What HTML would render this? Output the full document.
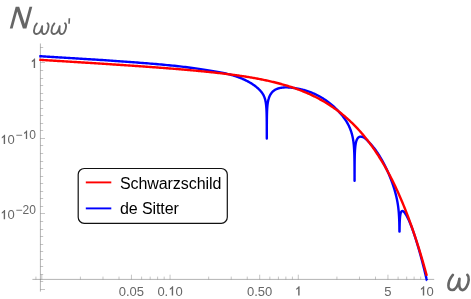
<!DOCTYPE html>
<html><head><meta charset="utf-8"><title>plot</title>
<style>html,body{margin:0;padding:0;background:#fff;overflow:hidden}body{width:471px;height:299px}</style></head>
<body>
<svg width="471" height="299" viewBox="0 0 471 299" style="display:block;font-family:'Liberation Sans',sans-serif;will-change:transform">
<rect width="471" height="299" fill="#fff"/>
<g stroke="#666" stroke-width="0.5" fill="none">
<path d="M40.4,43.5 V291.6 M32.4,279.4 H434.2"/>
<path d="M40.4,47.5 h2.8 M40.4,55.5 h2.8 M40.4,62.5 h4.6 M40.4,70.5 h2.8 M40.4,78.5 h2.8 M40.4,85.5 h2.8 M40.4,93.5 h2.8 M40.4,100.5 h2.8 M40.4,108.5 h2.8 M40.4,115.5 h2.8 M40.4,123.5 h2.8 M40.4,130.5 h2.8 M40.4,138.5 h4.6 M40.4,145.5 h2.8 M40.4,153.5 h2.8 M40.4,161.5 h2.8 M40.4,168.5 h2.8 M40.4,176.5 h2.8 M40.4,183.5 h2.8 M40.4,191.5 h2.8 M40.4,198.5 h2.8 M40.4,206.5 h2.8 M40.4,213.5 h4.6 M40.4,221.5 h2.8 M40.4,229.5 h2.8 M40.4,236.5 h2.8 M40.4,244.5 h2.8 M40.4,251.5 h2.8 M40.4,259.5 h2.8 M40.4,266.5 h2.8 M40.4,274.5 h2.8 M40.4,281.5 h2.8 M40.4,289.5 h4.6 M41.8,279.4 v-4.7 M131.44,279.4 v-4.7 M170.05,279.4 v-4.7 M259.69,279.4 v-4.7 M298.3,279.4 v-4.7 M387.94,279.4 v-4.7 M426.55,279.4 v-4.7 M35.93,279.4 v-2.8 M80.41,279.4 v-2.8 M102.99,279.4 v-2.8 M119.01,279.4 v-2.8 M141.6,279.4 v-2.8 M150.18,279.4 v-2.8 M157.62,279.4 v-2.8 M164.18,279.4 v-2.8 M208.66,279.4 v-2.8 M231.24,279.4 v-2.8 M247.26,279.4 v-2.8 M269.85,279.4 v-2.8 M278.43,279.4 v-2.8 M285.87,279.4 v-2.8 M292.43,279.4 v-2.8 M336.91,279.4 v-2.8 M359.49,279.4 v-2.8 M375.51,279.4 v-2.8 M398.1,279.4 v-2.8 M406.68,279.4 v-2.8 M414.12,279.4 v-2.8 M420.68,279.4 v-2.8 " stroke-width="0.38"/>
</g>
<path d="M39.3,56.16 L39.3,56.16 L39.3,56.16 L39.3,56.16 L39.3,56.16 L39.3,56.16 L39.3,56.16 L39.3,56.16 L39.3,56.16 L39.3,56.16 L39.3,56.16 L39.31,56.16 L39.31,56.16 L39.31,56.16 L39.32,56.16 L39.32,56.16 L39.33,56.16 L39.34,56.16 L39.34,56.16 L39.36,56.16 L39.37,56.16 L39.38,56.16 L39.4,56.16 L39.42,56.16 L39.44,56.17 L39.47,56.17 L39.49,56.17 L39.52,56.17 L39.56,56.17 L39.6,56.18 L39.64,56.18 L39.69,56.18 L39.74,56.19 L39.8,56.19 L39.86,56.19 L39.93,56.2 L40,56.2 L40.08,56.21 L40.17,56.21 L40.26,56.22 L40.36,56.23 L40.47,56.23 L40.59,56.24 L40.71,56.25 L40.84,56.26 L40.98,56.27 L41.14,56.27 L41.3,56.29 L41.47,56.3 L41.65,56.31 L41.84,56.32 L42.05,56.33 L42.26,56.35 L42.49,56.36 L42.73,56.38 L42.98,56.39 L43.25,56.41 L43.52,56.43 L43.82,56.45 L44.12,56.47 L44.45,56.49 L44.78,56.51 L45.13,56.53 L45.5,56.55 L45.89,56.58 L46.29,56.6 L46.7,56.63 L47.14,56.66 L47.59,56.69 L48.06,56.71 L48.55,56.75 L49.06,56.78 L49.58,56.81 L50.13,56.84 L50.69,56.88 L51.28,56.92 L51.88,56.95 L52.51,56.99 L53.15,57.03 L53.82,57.07 L54.51,57.12 L55.22,57.16 L55.95,57.2 L56.7,57.25 L57.47,57.3 L58.27,57.35 L59.09,57.4 L59.93,57.45 L60.8,57.5 L61.69,57.56 L62.6,57.61 L63.53,57.67 L64.49,57.73 L65.47,57.79 L66.48,57.85 L67.51,57.91 L68.56,57.97 L69.63,58.04 L70.73,58.11 L71.86,58.17 L73,58.24 L74.17,58.31 L75.36,58.39 L76.58,58.46 L77.82,58.54 L79.08,58.61 L80.36,58.69 L81.67,58.77 L83,58.85 L84.35,58.93 L85.73,59.02 L87.12,59.1 L88.54,59.19 L89.98,59.28 L91.44,59.37 L92.92,59.46 L94.42,59.56 L95.94,59.65 L97.48,59.75 L99.03,59.85 L100.61,59.95 L102.21,60.06 L103.82,60.16 L105.45,60.27 L107.1,60.38 L108.76,60.49 L110.44,60.6 L112.14,60.72 L113.85,60.84 L115.57,60.96 L117.31,61.08 L119.06,61.2 L120.83,61.33 L122.6,61.46 L124.39,61.59 L126.19,61.72 L128,61.86 L129.81,61.99 L131.64,62.13 L133.48,62.26 L135.32,62.4 L137.17,62.54 L139.02,62.68 L140.88,62.83 L142.74,62.97 L144.61,63.12 L146.48,63.27 L148.36,63.42 L150.23,63.58 L152.11,63.73 L153.99,63.89 L155.87,64.05 L157.74,64.21 L159.62,64.38 L161.49,64.55 L163.36,64.72 L165.22,64.89 L167.08,65.07 L168.93,65.25 L170.78,65.44 L172.62,65.62 L174.46,65.81 L176.29,66.01 L178.1,66.2 L179.91,66.4 L181.71,66.61 L183.5,66.82 L185.27,67.03 L187.04,67.24 L188.79,67.46 L190.53,67.69 L192.25,67.92 L193.96,68.15 L195.66,68.39 L197.34,68.63 L199,68.87 L200.65,69.12 L202.28,69.37 L203.89,69.61 L205.49,69.85 L207.07,70.1 L208.62,70.34 L210.16,70.58 L211.68,70.82 L213.18,71.07 L214.66,71.32 L216.12,71.57 L217.56,71.83 L218.98,72.09 L220.37,72.36 L221.75,72.64 L223.1,72.92 L224.43,73.21 L225.74,73.5 L227.02,73.81 L228.28,74.12 L229.52,74.44 L230.74,74.77 L231.93,75.1 L233.1,75.44 L234.24,75.79 L235.37,76.15 L236.47,76.52 L237.54,76.89 L238.59,77.27 L239.62,77.66 L240.63,78.06 L241.61,78.46 L242.57,78.87 L243.5,79.29 L244.41,79.7 L245.3,80.13 L246.17,80.55 L247.01,80.98 L247.83,81.41 L248.63,81.84 L249.4,82.27 L250.15,82.71 L250.88,83.14 L251.59,83.58 L252.28,84.02 L252.95,84.46 L253.59,84.9 L254.22,85.34 L254.82,85.78 L255.41,86.22 L255.97,86.66 L256.52,87.11 L257.04,87.55 L257.55,88 L258.04,88.45 L258.51,88.89 L258.96,89.33 L259.4,89.76 L259.81,90.18 L260.21,90.61 L260.6,91.03 L260.97,91.45 L261.32,91.87 L261.65,92.3 L261.98,92.73 L262.28,93.16 L262.58,93.6 L262.85,94.04 L263.12,94.49 L263.37,94.94 L263.61,95.41 L263.84,95.88 L264.05,96.36 L264.26,96.85 L264.45,97.35 L264.63,97.86 L264.8,98.38 L264.96,98.91 L265.12,99.45 L265.26,100.01 L265.39,100.58 L265.51,101.16 L265.63,101.76 L265.74,102.38 L265.84,103.01 L265.93,103.65 L266.02,104.32 L266.1,105 L266.17,105.71 L266.24,106.43 L266.3,107.18 L266.36,107.95 L266.41,108.74 L266.46,109.57 L266.5,110.42 L266.54,111.3 L266.58,112.21 L266.61,113.16 L266.63,114.15 L266.66,115.18 L266.68,116.25 L266.7,117.37 L266.72,118.54 L266.73,119.77 L266.74,121.07 L266.76,122.43 L266.76,123.87 L266.77,125.41 L266.78,127.04 L266.78,128.78 L266.79,130.65 L266.79,132.68 L266.79,134.88 L266.8,137.29 L266.8,138.6 L266.8,138.6 L266.8,138.6 L266.8,138.6 L266.8,138.6 L266.8,138.6 L266.8,138.6 L266.8,138.6 L266.8,138.6 L266.8,138.6 L266.8,138.6 L266.8,138.6 L266.8,138.6 L266.8,138.6 L266.8,138.6 L266.8,138.6 L266.8,138.6 L266.8,138.6 L266.8,138.6 L266.8,138.6 L266.8,138.6 L266.8,138.6 L266.8,138.6 L266.8,136.68 L266.81,134.81 L266.81,133.07 L266.81,131.44 L266.81,129.9 L266.82,128.46 L266.82,127.1 L266.83,125.8 L266.83,124.57 L266.84,123.4 L266.85,122.28 L266.85,121.2 L266.86,120.18 L266.87,119.19 L266.89,118.24 L266.9,117.33 L266.91,116.44 L266.93,115.59 L266.95,114.77 L266.97,113.97 L266.99,113.2 L267.02,112.45 L267.04,111.73 L267.07,111.02 L267.1,110.34 L267.13,109.67 L267.17,109.02 L267.21,108.39 L267.25,107.78 L267.3,107.18 L267.34,106.59 L267.4,106.02 L267.45,105.46 L267.51,104.92 L267.57,104.38 L267.64,103.86 L267.71,103.35 L267.78,102.85 L267.86,102.37 L267.94,101.89 L268.03,101.42 L268.12,100.96 L268.22,100.51 L268.32,100.07 L268.43,99.64 L268.54,99.21 L268.66,98.79 L268.79,98.39 L268.91,97.99 L269.05,97.59 L269.19,97.21 L269.34,96.83 L269.5,96.45 L269.66,96.09 L269.82,95.73 L270,95.38 L270.18,95.03 L270.37,94.69 L270.56,94.36 L270.77,94.04 L270.98,93.72 L271.19,93.41 L271.42,93.1 L271.65,92.8 L271.89,92.51 L272.14,92.22 L272.4,91.95 L272.67,91.68 L272.94,91.41 L273.22,91.16 L273.51,90.91 L273.81,90.68 L274.12,90.45 L274.44,90.23 L274.76,90.02 L275.09,89.82 L275.44,89.63 L275.79,89.45 L276.15,89.28 L276.52,89.11 L276.9,88.95 L277.28,88.79 L277.68,88.65 L278.09,88.51 L278.5,88.38 L278.93,88.26 L279.36,88.15 L279.8,88.04 L280.25,87.94 L280.71,87.85 L281.18,87.77 L281.66,87.7 L282.15,87.63 L282.64,87.57 L283.15,87.52 L283.66,87.48 L284.18,87.45 L284.71,87.42 L285.25,87.4 L285.79,87.39 L286.35,87.39 L286.91,87.4 L287.48,87.41 L288.06,87.43 L288.65,87.46 L289.24,87.5 L289.84,87.54 L290.45,87.59 L291.07,87.65 L291.69,87.71 L292.32,87.78 L292.95,87.86 L293.6,87.94 L294.25,88.03 L294.9,88.13 L295.56,88.23 L296.22,88.34 L296.89,88.45 L297.57,88.58 L298.25,88.71 L298.94,88.84 L299.63,88.99 L300.32,89.14 L301.02,89.31 L301.72,89.48 L302.42,89.65 L303.13,89.84 L303.84,90.03 L304.55,90.23 L305.27,90.44 L305.99,90.66 L306.71,90.89 L307.43,91.13 L308.15,91.37 L308.87,91.62 L309.6,91.88 L310.32,92.15 L311.04,92.43 L311.77,92.72 L312.49,93.02 L313.21,93.32 L313.94,93.64 L314.66,93.96 L315.38,94.29 L316.09,94.63 L316.81,94.98 L317.52,95.34 L318.23,95.71 L318.94,96.08 L319.64,96.46 L320.35,96.86 L321.04,97.26 L321.74,97.67 L322.43,98.09 L323.11,98.51 L323.79,98.95 L324.47,99.39 L325.14,99.84 L325.8,100.3 L326.46,100.76 L327.12,101.23 L327.77,101.71 L328.41,102.19 L329.04,102.68 L329.67,103.17 L330.3,103.67 L330.91,104.17 L331.52,104.67 L332.12,105.18 L332.71,105.7 L333.3,106.21 L333.88,106.74 L334.45,107.26 L335.01,107.79 L335.57,108.31 L336.11,108.85 L336.65,109.38 L337.18,109.91 L337.7,110.45 L338.22,110.99 L338.72,111.53 L339.22,112.07 L339.7,112.61 L340.18,113.15 L340.65,113.69 L341.11,114.23 L341.56,114.77 L342,115.3 L342.44,115.84 L342.86,116.37 L343.28,116.91 L343.68,117.44 L344.08,117.98 L344.47,118.51 L344.84,119.05 L345.21,119.59 L345.57,120.12 L345.93,120.66 L346.27,121.2 L346.6,121.74 L346.93,122.28 L347.24,122.83 L347.55,123.37 L347.85,123.91 L348.14,124.46 L348.42,125.01 L348.7,125.56 L348.96,126.11 L349.22,126.66 L349.47,127.21 L349.71,127.77 L349.94,128.32 L350.17,128.88 L350.39,129.44 L350.6,130 L350.8,130.55 L350.99,131.11 L351.18,131.67 L351.36,132.24 L351.54,132.8 L351.71,133.37 L351.87,133.93 L352.02,134.51 L352.17,135.08 L352.31,135.66 L352.45,136.24 L352.58,136.82 L352.7,137.41 L352.82,138.01 L352.93,138.61 L353.04,139.21 L353.14,139.83 L353.24,140.44 L353.33,141.07 L353.42,141.7 L353.5,142.34 L353.58,142.99 L353.66,143.65 L353.73,144.31 L353.79,144.99 L353.85,145.68 L353.91,146.38 L353.97,147.09 L354.02,147.82 L354.07,148.55 L354.11,149.31 L354.15,150.08 L354.19,150.86 L354.23,151.67 L354.26,152.49 L354.29,153.33 L354.32,154.2 L354.35,155.08 L354.37,156 L354.39,156.93 L354.41,157.9 L354.43,158.9 L354.45,159.93 L354.46,160.99 L354.48,162.09 L354.49,163.23 L354.5,164.42 L354.51,165.65 L354.52,166.94 L354.52,168.28 L354.53,169.68 L354.54,171.15 L354.54,172.7 L354.55,174.33 L354.55,176.05 L354.55,177.88 L354.55,179.82 L354.56,180.8 L354.56,180.8 L354.56,180.8 L354.56,180.8 L354.56,180.8 L354.56,180.8 L354.56,180.8 L354.56,180.8 L354.56,180.8 L354.56,180.8 L354.56,180.8 L354.56,180.8 L354.56,180.8 L354.56,180.8 L354.56,180.8 L354.56,180.8 L354.56,180.8 L354.56,180.8 L354.56,180.8 L354.56,180.8 L354.56,180.8 L354.56,180.8 L354.56,180.8 L354.56,180.8 L354.56,180.8 L354.56,180.8 L354.56,180.8 L354.56,180.8 L354.57,180.8 L354.57,180.8 L354.57,180.8 L354.57,180.8 L354.57,180.8 L354.57,179.4 L354.57,177.78 L354.58,176.24 L354.58,174.77 L354.58,173.38 L354.59,172.05 L354.59,170.78 L354.6,169.56 L354.6,168.38 L354.61,167.26 L354.61,166.18 L354.62,165.13 L354.63,164.13 L354.64,163.16 L354.65,162.22 L354.66,161.31 L354.67,160.43 L354.69,159.58 L354.7,158.75 L354.72,157.95 L354.73,157.17 L354.75,156.42 L354.77,155.68 L354.79,154.97 L354.82,154.28 L354.84,153.6 L354.87,152.95 L354.9,152.31 L354.93,151.69 L354.96,151.08 L354.99,150.49 L355.03,149.92 L355.06,149.36 L355.11,148.82 L355.15,148.29 L355.19,147.77 L355.24,147.27 L355.29,146.78 L355.34,146.31 L355.4,145.85 L355.45,145.39 L355.52,144.96 L355.58,144.53 L355.65,144.12 L355.71,143.71 L355.79,143.32 L355.86,142.94 L355.94,142.58 L356.02,142.22 L356.11,141.87 L356.2,141.54 L356.29,141.22 L356.39,140.91 L356.49,140.6 L356.59,140.31 L356.7,140.04 L356.81,139.77 L356.93,139.51 L357.05,139.27 L357.17,139.03 L357.3,138.81 L357.43,138.6 L357.57,138.39 L357.71,138.21 L357.85,138.03 L358,137.86 L358.15,137.71 L358.31,137.56 L358.47,137.43 L358.64,137.31 L358.81,137.2 L358.98,137.09 L359.16,137 L359.35,136.92 L359.54,136.85 L359.73,136.79 L359.93,136.75 L360.13,136.71 L360.34,136.68 L360.55,136.67 L360.77,136.67 L360.99,136.67 L361.22,136.69 L361.45,136.72 L361.68,136.76 L361.92,136.82 L362.17,136.88 L362.42,136.96 L362.67,137.05 L362.93,137.15 L363.19,137.26 L363.46,137.38 L363.73,137.52 L364.01,137.67 L364.29,137.83 L364.57,138.01 L364.86,138.22 L365.15,138.44 L365.45,138.68 L365.75,138.93 L366.05,139.2 L366.36,139.49 L366.67,139.79 L366.99,140.1 L367.3,140.43 L367.63,140.76 L367.95,141.11 L368.28,141.46 L368.61,141.82 L368.95,142.18 L369.28,142.54 L369.62,142.91 L369.97,143.27 L370.31,143.64 L370.66,144.01 L371.01,144.4 L371.37,144.8 L371.72,145.2 L372.08,145.62 L372.44,146.05 L372.8,146.48 L373.16,146.93 L373.52,147.38 L373.89,147.84 L374.25,148.31 L374.62,148.8 L374.99,149.29 L375.36,149.79 L375.73,150.29 L376.1,150.81 L376.47,151.34 L376.84,151.87 L377.21,152.41 L377.58,152.96 L377.95,153.52 L378.32,154.09 L378.69,154.66 L379.06,155.24 L379.43,155.83 L379.8,156.42 L380.16,157.02 L380.53,157.63 L380.89,158.25 L381.25,158.87 L381.61,159.5 L381.97,160.14 L382.33,160.78 L382.68,161.42 L383.04,162.08 L383.39,162.73 L383.74,163.39 L384.08,164.06 L384.43,164.73 L384.77,165.4 L385.1,166.07 L385.44,166.75 L385.77,167.43 L386.1,168.12 L386.42,168.8 L386.75,169.49 L387.06,170.18 L387.38,170.87 L387.69,171.56 L388,172.25 L388.3,172.94 L388.6,173.63 L388.9,174.32 L389.19,175.01 L389.48,175.71 L389.76,176.39 L390.04,177.08 L390.32,177.77 L390.59,178.46 L390.86,179.14 L391.12,179.82 L391.38,180.5 L391.63,181.18 L391.88,181.86 L392.13,182.53 L392.37,183.21 L392.6,183.88 L392.83,184.54 L393.06,185.21 L393.28,185.87 L393.5,186.53 L393.71,187.18 L393.92,187.84 L394.12,188.49 L394.32,189.14 L394.51,189.78 L394.7,190.42 L394.89,191.06 L395.07,191.7 L395.24,192.33 L395.41,192.96 L395.58,193.59 L395.74,194.21 L395.9,194.83 L396.05,195.45 L396.2,196.07 L396.34,196.68 L396.48,197.29 L396.62,197.9 L396.75,198.51 L396.88,199.11 L397,199.72 L397.12,200.32 L397.24,200.92 L397.35,201.52 L397.46,202.12 L397.56,202.72 L397.66,203.31 L397.76,203.91 L397.85,204.5 L397.94,205.1 L398.02,205.69 L398.11,206.28 L398.19,206.88 L398.26,207.47 L398.33,208.07 L398.4,208.67 L398.47,209.27 L398.53,209.87 L398.59,210.47 L398.65,211.08 L398.71,211.69 L398.76,212.3 L398.81,212.92 L398.86,213.55 L398.9,214.17 L398.94,214.81 L398.98,215.45 L399.02,216.09 L399.06,216.75 L399.09,217.41 L399.12,218.08 L399.15,218.76 L399.18,219.46 L399.21,220.16 L399.23,220.87 L399.26,221.6 L399.28,222.34 L399.3,223.1 L399.32,223.87 L399.33,224.66 L399.35,225.46 L399.36,226.29 L399.38,227.14 L399.39,228.01 L399.4,228.9 L399.41,229.82 L399.42,230.77 L399.43,231.6 L399.44,231.6 L399.44,231.6 L399.45,231.6 L399.45,231.6 L399.46,231.6 L399.46,231.6 L399.47,231.6 L399.47,231.6 L399.47,231.6 L399.48,231.6 L399.48,231.6 L399.48,231.6 L399.48,231.6 L399.48,231.6 L399.48,231.6 L399.48,231.6 L399.49,231.6 L399.49,231.6 L399.49,231.6 L399.49,231.6 L399.49,231.6 L399.49,231.6 L399.49,231.6 L399.49,231.6 L399.49,231.6 L399.49,231.6 L399.49,231.6 L399.49,231.6 L399.49,231.6 L399.49,231.6 L399.49,231.6 L399.49,231.6 L399.49,231.6 L399.49,231.6 L399.49,231.6 L399.49,231.6 L399.49,231.6 L399.49,231.6 L399.49,231.6 L399.49,231.6 L399.49,231.6 L399.49,231.6 L399.49,231.6 L399.49,231.6 L399.49,231.6 L399.49,231.6 L399.49,231.6 L399.49,231.6 L399.49,231.6 L399.5,231.6 L399.5,231.6 L399.5,231.6 L399.5,231.6 L399.5,231.6 L399.51,231.6 L399.51,231.6 L399.51,231.6 L399.52,231.6 L399.52,231.6 L399.53,231.6 L399.53,231.6 L399.54,231.6 L399.55,231.6 L399.55,231.09 L399.56,230.3 L399.57,229.52 L399.58,228.77 L399.59,228.05 L399.6,227.34 L399.61,226.66 L399.63,226 L399.64,225.36 L399.66,224.73 L399.67,224.13 L399.69,223.54 L399.71,222.97 L399.73,222.41 L399.75,221.88 L399.77,221.35 L399.79,220.85 L399.82,220.35 L399.84,219.88 L399.87,219.41 L399.9,218.96 L399.93,218.53 L399.96,218.11 L399.99,217.7 L400.03,217.3 L400.07,216.92 L400.1,216.55 L400.15,216.19 L400.19,215.85 L400.23,215.52 L400.28,215.2 L400.33,214.89 L400.38,214.59 L400.43,214.31 L400.48,214.04 L400.54,213.78 L400.6,213.53 L400.66,213.3 L400.72,213.07 L400.79,212.86 L400.85,212.66 L400.92,212.47 L401,212.29 L401.07,212.13 L401.15,211.98 L401.23,211.83 L401.31,211.7 L401.4,211.58 L401.49,211.48 L401.58,211.38 L401.67,211.3 L401.76,211.23 L401.86,211.17 L401.96,211.12 L402.07,211.08 L402.17,211.05 L402.28,211.04 L402.4,211.04 L402.51,211.05 L402.63,211.07 L402.75,211.1 L402.87,211.14 L403,211.2 L403.13,211.27 L403.26,211.35 L403.4,211.44 L403.53,211.54 L403.67,211.66 L403.82,211.79 L403.96,211.93 L404.11,212.08 L404.26,212.25 L404.42,212.43 L404.57,212.62 L404.73,212.82 L404.9,213.04 L405.06,213.27 L405.23,213.51 L405.4,213.76 L405.57,214.03 L405.75,214.31 L405.92,214.6 L406.1,214.9 L406.29,215.21 L406.47,215.54 L406.66,215.88 L406.85,216.23 L407.04,216.59 L407.23,216.96 L407.43,217.34 L407.63,217.74 L407.83,218.15 L408.03,218.57 L408.23,218.99 L408.44,219.43 L408.64,219.88 L408.85,220.34 L409.06,220.82 L409.28,221.3 L409.49,221.79 L409.7,222.29 L409.92,222.8 L410.14,223.32 L410.35,223.85 L410.57,224.39 L410.79,224.94 L411.01,225.5 L411.24,226.07 L411.46,226.64 L411.68,227.23 L411.91,227.83 L412.13,228.43 L412.36,229.04 L412.58,229.66 L412.81,230.29 L413.03,230.93 L413.26,231.57 L413.48,232.22 L413.71,232.87 L413.93,233.53 L414.16,234.19 L414.38,234.86 L414.6,235.54 L414.83,236.21 L415.05,236.89 L415.27,237.58 L415.49,238.27 L415.71,238.96 L415.93,239.65 L416.15,240.34 L416.37,241.03 L416.58,241.73 L416.8,242.43 L417.01,243.12 L417.22,243.82 L417.43,244.51 L417.64,245.2 L417.85,245.9 L418.06,246.59 L418.26,247.27 L418.46,247.96 L418.66,248.65 L418.86,249.33 L419.05,250.01 L419.25,250.68 L419.44,251.36 L419.63,252.03 L419.82,252.69 L420,253.35 L420.18,254.01 L420.36,254.66 L420.54,255.3 L420.72,255.94 L420.89,256.58 L421.06,257.2 L421.23,257.82 L421.39,258.44 L421.55,259.04 L421.71,259.64 L421.87,260.24 L422.02,260.82 L422.18,261.4 L422.32,261.97 L422.47,262.53 L422.61,263.08 L422.75,263.62 L422.89,264.15 L423.03,264.68 L423.16,265.19 L423.29,265.7 L423.41,266.2 L423.54,266.69 L423.66,267.16 L423.78,267.63 L423.89,268.09 L424,268.54 L424.11,268.98 L424.22,269.41 L424.32,269.83 L424.42,270.24 L424.52,270.63 L424.62,271.02 L424.71,271.4 L424.8,271.77 L424.89,272.13 L424.97,272.48 L425.06,272.82 L425.14,273.15 L425.21,273.47 L425.29,273.78 L425.36,274.08 L425.43,274.37 L425.5,274.65 L425.57,274.92 L425.63,275.19 L425.69,275.44 L425.75,275.69 L425.8,275.92 L425.86,276.15 L425.91,276.37 L425.96,276.58 L426.01,276.78 L426.06,276.98 L426.1,277.16 L426.14,277.34 L426.18,277.51 L426.22,277.67 L426.26,277.83 L426.29,277.98 L426.33,278.12 L426.36,278.26 L426.39,278.38 L426.42,278.51 L426.44,278.62 L426.47,278.73 L426.49,278.84 L426.52,278.94 L426.54,279.03 L426.56,279.12 L426.58,279.2 L426.6,279.28 L426.61,279.35 L426.63,279.42 L426.65,279.48 L426.66,279.54 L426.67,279.6 L426.68,279.65 L426.7,279.7 L426.71,279.74 L426.72,279.78 L426.72,279.82 L426.73,279.85 L426.74,279.89 L426.75,279.92 L426.75,279.94 L426.76,279.97 L426.76,279.99 L426.77,280.01 L426.77,280.03 L426.78,280.04 L426.78,280.06 L426.78,280.07 L426.79,280.08 L426.79,280.09 L426.79,280.1 L426.79,280.11 L426.79,280.11 L426.79,280.12 L426.8,280.12 L426.8,280.13 L426.8,280.13 L426.8,280.13 L426.8,280.14 L426.8,280.14 L426.8,280.14 L426.8,280.14 L426.8,280.14 L426.8,280.14 L426.8,280.14 L426.8,280.14 L426.8,280.14 L426.8,280.14 L426.8,280.14 L426.8,280.14 L426.8,280.14 L426.8,280.14" fill="none" stroke="#00f" stroke-width="2.4" stroke-linejoin="round"/>
<path d="M39.3,59.8 L40.27,59.86 L41.24,59.92 L42.21,59.98 L43.18,60.04 L44.16,60.1 L45.13,60.16 L46.1,60.22 L47.07,60.28 L48.04,60.33 L49.01,60.39 L49.98,60.45 L50.95,60.51 L51.93,60.57 L52.9,60.63 L53.87,60.69 L54.84,60.75 L55.81,60.81 L56.78,60.87 L57.75,60.93 L58.72,60.99 L59.69,61.05 L60.67,61.11 L61.64,61.17 L62.61,61.23 L63.58,61.29 L64.55,61.35 L65.52,61.41 L66.49,61.47 L67.46,61.53 L68.44,61.59 L69.41,61.65 L70.38,61.71 L71.35,61.77 L72.32,61.83 L73.29,61.89 L74.26,61.95 L75.23,62.01 L76.2,62.07 L77.18,62.13 L78.15,62.19 L79.12,62.25 L80.09,62.31 L81.06,62.37 L82.03,62.43 L83,62.49 L83.97,62.56 L84.95,62.62 L85.92,62.68 L86.89,62.74 L87.86,62.8 L88.83,62.86 L89.8,62.92 L90.77,62.99 L91.74,63.05 L92.71,63.11 L93.69,63.17 L94.66,63.23 L95.63,63.29 L96.6,63.36 L97.57,63.42 L98.54,63.48 L99.51,63.54 L100.48,63.61 L101.46,63.67 L102.43,63.73 L103.4,63.79 L104.37,63.86 L105.34,63.92 L106.31,63.98 L107.28,64.05 L108.25,64.11 L109.22,64.17 L110.2,64.24 L111.17,64.3 L112.14,64.36 L113.11,64.43 L114.08,64.49 L115.05,64.55 L116.02,64.62 L116.99,64.68 L117.97,64.75 L118.94,64.81 L119.91,64.88 L120.88,64.94 L121.85,65.01 L122.82,65.07 L123.79,65.14 L124.76,65.2 L125.73,65.27 L126.71,65.33 L127.68,65.4 L128.65,65.47 L129.62,65.53 L130.59,65.6 L131.56,65.67 L132.53,65.73 L133.5,65.8 L134.48,65.87 L135.45,65.93 L136.42,66 L137.39,66.07 L138.36,66.14 L139.33,66.2 L140.3,66.27 L141.27,66.34 L142.24,66.41 L143.22,66.48 L144.19,66.55 L145.16,66.62 L146.13,66.69 L147.1,66.76 L148.07,66.83 L149.04,66.9 L150.01,66.97 L150.99,67.04 L151.96,67.11 L152.93,67.18 L153.9,67.25 L154.87,67.32 L155.84,67.4 L156.81,67.47 L157.78,67.54 L158.75,67.61 L159.73,67.69 L160.7,67.76 L161.67,67.83 L162.64,67.91 L163.61,67.98 L164.58,68.06 L165.55,68.13 L166.52,68.21 L167.5,68.28 L168.47,68.36 L169.44,68.44 L170.41,68.51 L171.38,68.59 L172.35,68.67 L173.32,68.75 L174.29,68.83 L175.26,68.9 L176.24,68.98 L177.21,69.06 L178.18,69.14 L179.15,69.22 L180.12,69.31 L181.09,69.39 L182.06,69.47 L183.03,69.55 L184.01,69.63 L184.98,69.72 L185.95,69.8 L186.92,69.89 L187.89,69.97 L188.86,70.06 L189.83,70.14 L190.8,70.23 L191.77,70.32 L192.75,70.41 L193.72,70.5 L194.69,70.58 L195.66,70.67 L196.63,70.76 L197.6,70.86 L198.57,70.95 L199.54,71.04 L200.52,71.13 L201.49,71.23 L202.46,71.32 L203.43,71.42 L204.4,71.52 L205.37,71.61 L206.34,71.71 L207.31,71.81 L208.28,71.91 L209.26,72.01 L210.23,72.11 L211.2,72.21 L212.17,72.32 L213.14,72.42 L214.11,72.53 L215.08,72.63 L216.05,72.74 L217.03,72.85 L218,72.96 L218.97,73.07 L219.94,73.18 L220.91,73.29 L221.88,73.4 L222.85,73.52 L223.82,73.64 L224.79,73.75 L225.77,73.87 L226.74,73.99 L227.71,74.11 L228.68,74.24 L229.65,74.36 L230.62,74.48 L231.59,74.61 L232.56,74.74 L233.54,74.87 L234.51,75 L235.48,75.13 L236.45,75.27 L237.42,75.41 L238.39,75.54 L239.36,75.68 L240.33,75.82 L241.31,75.97 L242.28,76.11 L243.25,76.26 L244.22,76.41 L245.19,76.56 L246.16,76.71 L247.13,76.87 L248.1,77.02 L249.07,77.18 L250.05,77.35 L251.02,77.51 L251.99,77.68 L252.96,77.84 L253.93,78.01 L254.9,78.19 L255.87,78.36 L256.84,78.54 L257.82,78.72 L258.79,78.91 L259.76,79.09 L260.73,79.28 L261.7,79.48 L262.67,79.67 L263.64,79.87 L264.61,80.07 L265.58,80.27 L266.56,80.48 L267.53,80.69 L268.5,80.91 L269.47,81.12 L270.44,81.34 L271.41,81.57 L272.38,81.8 L273.35,82.03 L274.33,82.27 L275.3,82.5 L276.27,82.75 L277.24,83 L278.21,83.25 L279.18,83.5 L280.15,83.76 L281.12,84.03 L282.09,84.3 L283.07,84.57 L284.04,84.85 L285.01,85.13 L285.98,85.42 L286.95,85.71 L287.92,86.01 L288.89,86.31 L289.86,86.62 L290.84,86.93 L291.81,87.25 L292.78,87.57 L293.75,87.9 L294.72,88.24 L295.69,88.58 L296.66,88.92 L297.63,89.28 L298.6,89.63 L299.58,90 L300.55,90.37 L301.52,90.75 L302.49,91.13 L303.46,91.52 L304.43,91.92 L305.4,92.33 L306.37,92.74 L307.35,93.16 L308.32,93.58 L309.29,94.02 L310.26,94.46 L311.23,94.91 L312.2,95.37 L313.17,95.83 L314.14,96.3 L315.11,96.79 L316.09,97.28 L317.06,97.78 L318.03,98.28 L319,98.8 L319.97,99.33 L320.94,99.86 L321.91,100.4 L322.88,100.96 L323.86,101.52 L324.83,102.09 L325.8,102.68 L326.77,103.27 L327.74,103.88 L328.71,104.49 L329.68,105.12 L330.65,105.75 L331.62,106.4 L332.6,107.06 L333.57,107.73 L334.54,108.41 L335.51,109.11 L336.48,109.81 L337.45,110.53 L338.42,111.27 L339.39,112.01 L340.37,112.77 L341.34,113.54 L342.31,114.32 L343.28,115.12 L344.25,115.94 L345.22,116.76 L346.19,117.6 L347.16,118.46 L348.13,119.33 L349.11,120.22 L350.08,121.12 L351.05,122.04 L352.02,122.97 L352.99,123.92 L353.96,124.89 L354.93,125.87 L355.9,126.88 L356.88,127.9 L357.85,128.93 L358.82,129.99 L359.79,131.06 L360.76,132.16 L361.73,133.27 L362.7,134.4 L363.67,135.55 L364.64,136.72 L365.62,137.92 L366.59,139.13 L367.56,140.36 L368.53,141.62 L369.5,142.9 L370.47,144.2 L371.44,145.52 L372.41,146.87 L373.39,148.24 L374.36,149.64 L375.33,151.06 L376.3,152.5 L377.27,153.97 L378.24,155.47 L379.21,156.99 L380.18,158.54 L381.15,160.12 L382.13,161.72 L383.1,163.35 L384.07,165.01 L385.04,166.7 L386.01,168.42 L386.98,170.17 L387.95,171.95 L388.92,173.77 L389.9,175.61 L390.87,177.49 L391.84,179.4 L392.81,181.34 L393.78,183.32 L394.75,185.33 L395.72,187.38 L396.69,189.46 L397.66,191.58 L398.64,193.74 L399.61,195.93 L400.58,198.17 L401.55,200.44 L402.52,202.75 L403.49,205.11 L404.46,207.5 L405.43,209.94 L406.41,212.42 L407.38,214.94 L408.35,217.51 L409.32,220.13 L410.29,222.79 L411.26,225.49 L412.23,228.25 L413.2,231.05 L414.17,233.9 L415.15,236.8 L416.12,239.75 L417.09,242.76 L418.06,245.82 L419.03,248.93 L420,252.09 L420.97,255.32 L421.94,258.59 L422.92,261.93 L423.89,265.33 L424.86,268.78 L425.83,272.3 L426.8,275.87" fill="none" stroke="#f00" stroke-width="2.4" stroke-linejoin="round"/>
<g fill="#666">
<path d="M33.7,67.9 H35.1 V58.55 H34.1 C33.7,59.5 32.8,60.3 31.8,60.8 V62.3 C32.5,62 33.2,61.5 33.7,60.9 Z"/>
<path d="M3.7,144 H5.1 V134.65 H4.1 C3.7,135.6 2.8,136.4 1.8,136.9 V138.4 C2.5,138.1 3.2,137.6 3.7,137 Z"/>
<text x="7.43" y="144" font-size="13">0</text>
<text x="15.6" y="139.1" font-size="12">−</text>
<path d="M25.84,139.1 H27.13 V130.47 H26.21 C25.84,131.35 25.01,132.08 24.08,132.55 V133.93 C24.73,133.65 25.38,133.19 25.84,132.64 Z"/>
<text x="29.28" y="139.1" font-size="12">0</text>
<path d="M3.7,219.3 H5.1 V209.95 H4.1 C3.7,210.9 2.8,211.7 1.8,212.2 V213.7 C2.5,213.4 3.2,212.9 3.7,212.3 Z"/>
<text x="7.43" y="219.3" font-size="13">0</text>
<text x="15.6" y="214.4" font-size="12">−20</text>
<text x="118.79" y="295.6" font-size="13">0.05</text>
<text x="157.4" y="295.6" font-size="13">0.</text>
<path d="M171.74,295.6 H173.14 V286.25 H172.14 C171.74,287.2 170.84,288 169.84,288.5 V290 C170.54,289.7 171.24,289.2 171.74,288.6 Z"/>
<text x="175.47" y="295.6" font-size="13">0</text>
<text x="247.04" y="295.6" font-size="13">0.50</text>
<path d="M298.19,295.6 H299.59 V286.25 H298.59 C298.19,287.2 297.29,288 296.29,288.5 V290 C296.99,289.7 297.69,289.2 298.19,288.6 Z"/>
<text x="384.33" y="295.6" font-size="13">5</text>
<path d="M422.82,295.6 H424.22 V286.25 H423.22 C422.82,287.2 421.92,288 420.92,288.5 V290 C421.62,289.7 422.32,289.2 422.82,288.6 Z"/>
<text x="426.55" y="295.6" font-size="13">0</text>
</g>
<g fill="#666">
<path d="M15.7,6.8 H18.5 L12.6,28.6 H9.8 Z M29.5,6.8 H32.3 L26.4,28.6 H23.6 Z M15.7,6.8 H19.2 L26.4,28.6 H22.9 Z"/>
<path d="M68.5,18.3 H70.2 L69.8,23.8 H68.3 Z"/>
</g>
<g fill="none" stroke="#666" stroke-linecap="round" stroke-linejoin="round">
<path d="M36.9,23.4 C35.6,24.8 34.0,27.9 33.95,30.7 C33.9,32.8 34.9,34.0 36.6,34.0 C39.2,34.0 41.4,30 42.2,26.1 C41.9,28 41.8,30.5 42.0,31.8 C42.2,33.3 43.1,34.15 44.5,34.15 C46.8,34.15 48.4,29.5 48.6,26.2 C48.7,24.8 48.3,23.8 47.5,23.2" stroke-width="1.9"/>
<path d="M36.9,23.4 C35.6,24.8 34.0,27.9 33.95,30.7 C33.9,32.8 34.9,34.0 36.6,34.0 C39.2,34.0 41.4,30 42.2,26.1 C41.9,28 41.8,30.5 42.0,31.8 C42.2,33.3 43.1,34.15 44.5,34.15 C46.8,34.15 48.4,29.5 48.6,26.2 C48.7,24.8 48.3,23.8 47.5,23.2" stroke-width="1.9" transform="translate(17.5,0)"/>
<path d="M452.9,274.9 C450.9,277.3 448.5,281.8 448.4,285.5 C448.35,288.3 449.8,289.95 452.3,289.95 C455.6,289.95 458.3,284.5 459.5,278.7 C459.1,281.5 459.0,284.8 459.4,286.6 C459.8,288.8 460.9,290.1 462.6,290.1 C465.6,290.1 468.3,284.5 468.7,280 C468.9,277.7 468.4,275.8 467.3,274.8" stroke-width="2.6"/>
</g>
<rect x="78.2" y="168.5" width="149.1" height="54.8" rx="6" ry="6" fill="#fff" stroke="#111" stroke-width="1.2"/>
<path d="M85.8,182.4 H111.3" stroke="#f00" stroke-width="1.9"/>
<path d="M85.8,208.4 H111.3" stroke="#00f" stroke-width="1.9"/>
<g fill="#000" font-size="16">
<text x="120" y="188.5" letter-spacing="-0.08">Schwarzschild</text>
<text x="120" y="214.4" letter-spacing="-0.1">de Sitter</text>
</g>
</svg>
</body></html>
